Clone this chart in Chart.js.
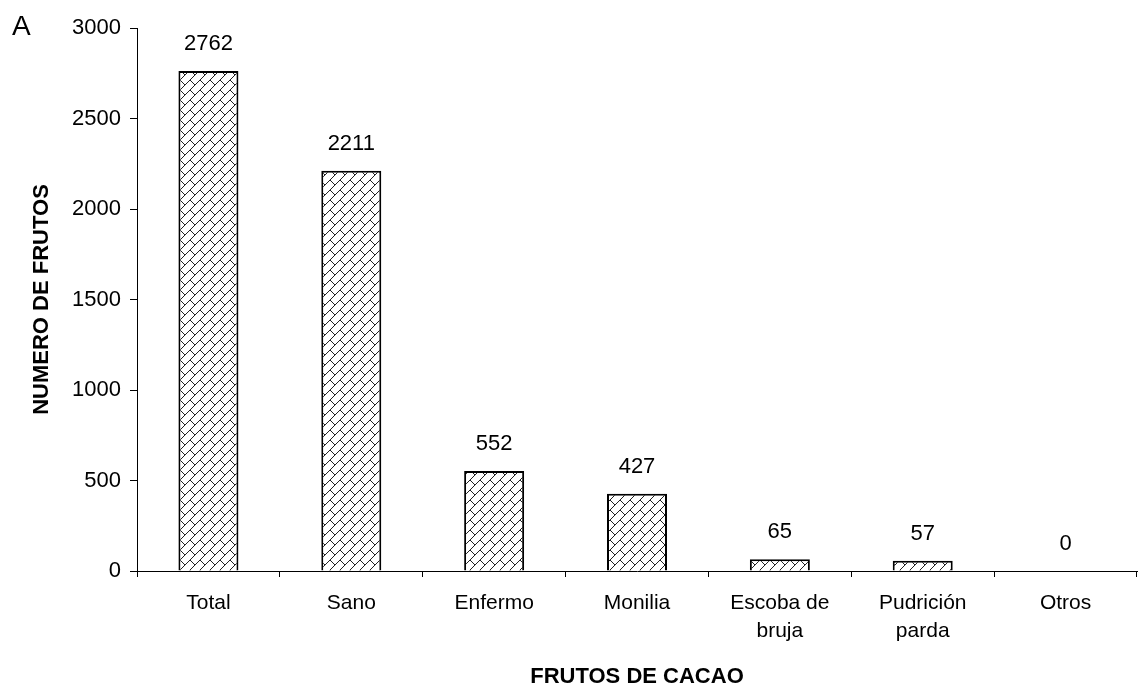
<!DOCTYPE html>
<html>
<head>
<meta charset="utf-8">
<script src="https://cdn.jsdelivr.net/npm/chart.js@4/dist/chart.umd.min.js"></script>
<style>
  html, body { margin: 0; padding: 0; background: #fff; }
  #wrap { width: 1141px; height: 692px; }
</style>
</head>
<body>
<div id="wrap"><canvas id="c" width="1141" height="692"></canvas></div>
<script>
const categories = ["Total", "Sano", "Enfermo", "Monilia", ["Escoba de", "bruja"], ["Pudrición", "parda"], "Otros"];
const values = [2762, 2211, 552, 427, 65, 57, 0];
const yTicks = [0, 500, 1000, 1500, 2000, 2500, 3000];
const yTitle = "NUMERO DE FRUTOS";
const xTitle = "FRUTOS DE CACAO";
const panelLabel = "A";

const FONT = "'Liberation Sans', Arial, sans-serif";

function makePattern() {
  const s = 20, h = s / 2, q = s / 4;
  const t = document.createElement('canvas');
  t.width = s; t.height = s;
  const g = t.getContext('2d');
  g.fillStyle = '#fff';
  g.fillRect(0, 0, s, s);
  g.strokeStyle = '#222';
  g.lineWidth = 1;
  const segs = [];
  for (let k = -s; k <= 3 * s; k += h) segs.push([k + s, -s, -s, k + s]);
  const starts = [[0, 0], [h, h], [h, 0], [0, h]];
  for (const [a, b] of starts) segs.push([a, b, a + q, b + q]);
  g.beginPath();
  for (const [x1, y1, x2, y2] of segs) {
    for (let dx = -s; dx <= s; dx += s) {
      for (let dy = -s; dy <= s; dy += s) {
        g.moveTo(x1 + dx, y1 + dy);
        g.lineTo(x2 + dx, y2 + dy);
      }
    }
  }
  g.stroke();
  return document.getElementById('c').getContext('2d').createPattern(t, 'repeat');
}

const labelPlugin = {
  id: 'valueLabels',
  afterDatasetsDraw(chart) {
    const ctx = chart.ctx;
    const meta = chart.getDatasetMeta(0);
    ctx.save();
    ctx.font = "22px " + FONT;
    ctx.fillStyle = '#000';
    ctx.textAlign = 'center';
    ctx.textBaseline = 'middle';
    meta.data.forEach((bar, i) => {
      ctx.fillText(String(values[i]), bar.x, bar.y - 27);
    });
    ctx.font = "28px " + FONT;
    ctx.textAlign = 'left';
    ctx.textBaseline = 'alphabetic';
    ctx.fillText(panelLabel, 12, 35);
    ctx.restore();
  }
};

new Chart(document.getElementById('c'), {
  type: 'bar',
  data: {
    labels: categories,
    datasets: [{
      data: values,
      backgroundColor: makePattern(),
      borderColor: '#000',
      borderWidth: 2,
      borderSkipped: 'bottom',
      barPercentage: 0.42,
      categoryPercentage: 1.0
    }]
  },
  options: {
    responsive: false,
    animation: false,
    devicePixelRatio: 1,
    layout: { padding: { top: 28, right: 4, left: 0, bottom: 0 } },
    plugins: { legend: { display: false }, tooltip: { enabled: false } },
    scales: {
      x: {
        offset: true,
        grid: { display: true, drawOnChartArea: false, drawTicks: true, tickLength: 6, color: '#000', offset: true },
        border: { display: true, color: '#000', width: 1 },
        ticks: { color: '#000', font: { family: FONT, size: 21, lineHeight: 1.35 }, padding: 12, maxRotation: 0, autoSkip: false },
        title: { display: true, text: xTitle, color: '#000', font: { family: FONT, size: 22, weight: 'bold' }, padding: { top: 0, bottom: 2 } },
        afterFit(scale) { scale.height = 121; }
      },
      y: {
        min: 0, max: 3000,
        afterBuildTicks(scale) { scale.ticks = yTicks.map(v => ({ value: v })); },
        grid: { display: true, drawOnChartArea: false, drawTicks: true, tickLength: 7, color: '#000' },
        border: { display: true, color: '#000', width: 1 },
        ticks: { color: '#000', font: { family: FONT, size: 22 }, padding: 9, callback: v => String(v) },
        title: { display: true, text: yTitle, color: '#000', font: { family: FONT, size: 22, weight: 'bold' }, padding: { top: 29, bottom: 0 } },
        afterFit(scale) { scale.width = 137; }
      }
    }
  },
  plugins: [labelPlugin]
});
</script>
</body>
</html>
